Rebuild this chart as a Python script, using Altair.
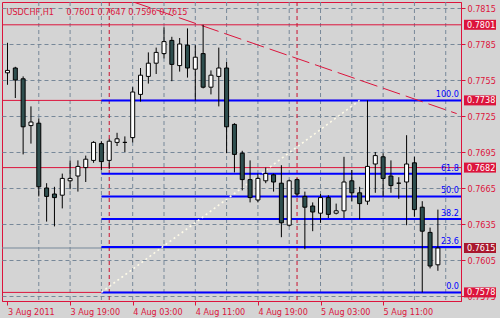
import altair as alt
import pandas as pd

# ---------------- values ----------------
bar_index = list(range(56))
opens = [0.7761, 0.7765, 0.7756, 0.7717, 0.7719, 0.7665, 0.7660, 0.7659, 0.7671, 0.7675,
         0.7682, 0.7688, 0.7702, 0.7688, 0.7703, 0.7703, 0.7707, 0.7743, 0.7758, 0.7769,
         0.7777, 0.7788, 0.7767, 0.7784, 0.7764, 0.7777, 0.7749, 0.7758, 0.7765, 0.7718,
         0.7694, 0.7672, 0.7655, 0.7671, 0.7676, 0.7669, 0.7634, 0.7672, 0.7658, 0.7650,
         0.7644, 0.7657, 0.7644, 0.7646, 0.7671, 0.7661, 0.7654, 0.7685, 0.7691, 0.7675,
         0.7669, 0.7670, 0.7686, 0.7649, 0.7628, 0.7601]
highs = [0.7786, 0.7766, 0.7758, 0.7733, 0.7723, 0.7669, 0.7666, 0.7677, 0.7688, 0.7688,
         0.7692, 0.7704, 0.7704, 0.7706, 0.7711, 0.7708, 0.7749, 0.7765, 0.7778, 0.7782,
         0.7799, 0.7791, 0.7790, 0.7798, 0.7784, 0.7801, 0.7763, 0.7782, 0.7770, 0.7719,
         0.7696, 0.7688, 0.7677, 0.7682, 0.7677, 0.7684, 0.7672, 0.7673, 0.7662, 0.7653,
         0.7660, 0.7659, 0.7652, 0.7691, 0.7680, 0.7666, 0.7738, 0.7695, 0.7694, 0.7688,
         0.7674, 0.7709, 0.7691, 0.7654, 0.7632, 0.7647]
lows = [0.7751, 0.7740, 0.7693, 0.7702, 0.7658, 0.7637, 0.7633, 0.7648, 0.7664, 0.7662,
        0.7670, 0.7686, 0.7680, 0.7681, 0.7700, 0.7695, 0.7703, 0.7737, 0.7752, 0.7760,
        0.7773, 0.7754, 0.7762, 0.7757, 0.7738, 0.7748, 0.7743, 0.7733, 0.7694, 0.7678,
        0.7663, 0.7653, 0.7653, 0.7669, 0.7662, 0.7624, 0.7633, 0.7658, 0.7614, 0.7629,
        0.7636, 0.7640, 0.7643, 0.7640, 0.7654, 0.7639, 0.7651, 0.7661, 0.7658, 0.7661,
        0.7656, 0.7634, 0.7641, 0.7578, 0.7598, 0.7596]
closes = [0.7763, 0.7755, 0.7716, 0.7720, 0.7666, 0.7658, 0.7657, 0.7673, 0.7673, 0.7683,
          0.7689, 0.7703, 0.7687, 0.7704, 0.7706, 0.7703, 0.7745, 0.7759, 0.7769, 0.7778,
          0.7787, 0.7768, 0.7785, 0.7765, 0.7774, 0.7749, 0.7759, 0.7765, 0.7716, 0.7693,
          0.7672, 0.7657, 0.7673, 0.7677, 0.7670, 0.7636, 0.7671, 0.7660, 0.7649, 0.7645,
          0.7657, 0.7643, 0.7646, 0.7670, 0.7661, 0.7652, 0.7683, 0.7692, 0.7673, 0.7667,
          0.7669, 0.7685, 0.7647, 0.7629, 0.7600, 0.7615]

price_ticks = [0.7575, 0.7605, 0.7635, 0.7665, 0.7695, 0.7725, 0.7755, 0.7785, 0.7815]
time_tick_bars = [0, 8, 16, 24, 32, 40, 48]
time_tick_labels = ["3 Aug 2011", "3 Aug 19:00", "4 Aug 03:00", "4 Aug 11:00",
                    "4 Aug 19:00", "5 Aug 03:00", "5 Aug 11:00"]
grid_bars = [4, 8, 12, 16, 20, 24, 28, 32, 36, 40, 44, 48, 52, 56]

red_levels = [0.7801, 0.7738, 0.7682, 0.7578]
bid_level = [0.7615]
fib_low, fib_high = 0.7578, 0.7738
fib_ratios = [0.0, 23.6, 38.2, 50.0, 61.8, 100.0]
fib_start_bar = 12
fib_diag_bars = [12, 45]
fib_diag_prices = [0.7578, 0.7738]
trend_bars = [16.1, 57.4]
trend_prices = [0.7820, 0.7727]
vline_bars = [13, 37]

box_prices = [0.7801, 0.7738, 0.7682, 0.7615, 0.7578]
box_kinds = ["level", "level", "level", "bid", "level"]

header_symbol = "USDCHF,H1"
header_ohlc = ["0.7601", "0.7647", "0.7596", "0.7615"]

# ---------------- styling ----------------
CRIMSON = "#dc143c"
BID_BOX = "#a8182e"
GRID = "#778899"
BG = "#d4d4d4"
BEAR = "#2f4f4f"
FONT = "DejaVu Sans Condensed, Liberation Sans Narrow, DejaVu Sans, sans-serif"
FS = 9

W, H = 459, 299
xs = alt.Scale(domain=[-0.0625, W / 8 - 0.0625], nice=False, zero=False)
ys = alt.Scale(domain=[0.7815 - 293 / 12000, 0.7815 + 6 / 12000], nice=False, zero=False)

label_expr = "[" + ",".join("'%s'" % s for s in time_tick_labels) + "][round(datum.value/8)]"
X_AX = alt.Axis(orient="bottom", values=time_tick_bars, labelExpr=label_expr, title=None,
                labelAlign="left", labelBaseline="top", labelFont=FONT, labelFontSize=FS,
                labelColor=CRIMSON, tickColor=CRIMSON, tickSize=4, domainColor=CRIMSON,
                grid=False, labelPadding=2, labelFlush=False, labelOverlap=False, labelBound=False)
Y_AX = alt.Axis(orient="right", values=price_ticks, format=".4f", title=None,
                labelAlign="left", labelBaseline="middle", labelFont=FONT, labelFontSize=FS,
                labelColor=CRIMSON, tickColor=CRIMSON, tickSize=4, domainColor=CRIMSON,
                grid=True, gridColor=GRID, gridDash=[4, 3], gridWidth=1, labelPadding=2,
                labelFlush=False, labelOverlap=False, labelBound=False)


def X(f):
    return alt.X(f, type="quantitative", scale=xs, axis=X_AX)


def Y(f):
    return alt.Y(f, type="quantitative", scale=ys, axis=Y_AX)


candles = pd.DataFrame({"k": bar_index, "open": opens, "high": highs,
                        "low": lows, "close": closes})
candles["fillc"] = ["white" if c > o else BEAR for o, c in zip(opens, closes)]

vgrid = alt.Chart(pd.DataFrame({"k": grid_bars})).mark_rule(
    color=GRID, strokeDash=[4, 3], strokeWidth=1).encode(x=X("k"))

red_df = pd.DataFrame({"p": red_levels})
red_lines = alt.Chart(red_df).mark_rule(color=CRIMSON, strokeWidth=1).encode(y=Y("p"))
bid_line = alt.Chart(pd.DataFrame({"p": bid_level})).mark_rule(
    color=GRID, strokeWidth=1).encode(y=Y("p"))

vlines = alt.Chart(pd.DataFrame({"k": vline_bars})).mark_rule(
    color="#c8102e", strokeDash=[4, 3], strokeWidth=1).encode(x=X("k"))

fib_df = pd.DataFrame({
    "r": fib_ratios,
    "p": [fib_low + r / 100 * (fib_high - fib_low) for r in fib_ratios],
    "k": [fib_start_bar] * len(fib_ratios),
    "lab": ["%.1f" % r for r in fib_ratios],
})
fib_lines = alt.Chart(fib_df).mark_rule(color="#0000ff", strokeWidth=2).encode(
    x=X("k"), x2=alt.value(W), y=Y("p"))
fib_text = alt.Chart(fib_df).mark_text(
    align="right", baseline="alphabetic", dy=-3, color="#0000ff",
    font=FONT, fontSize=FS).encode(x=alt.value(W - 2), y=Y("p"), text="lab:N")

fib_diag = alt.Chart(pd.DataFrame({"k": fib_diag_bars, "p": fib_diag_prices})).mark_line(
    color="#fffbe8", strokeDash=[2, 3], strokeWidth=1.6).encode(x=X("k"), y=Y("p"))

trend = alt.Chart(pd.DataFrame({"k": trend_bars, "p": trend_prices})).mark_line(
    color=CRIMSON, strokeDash=[18, 6], strokeWidth=1, clip=True).encode(x=X("k"), y=Y("p"))

wicks = alt.Chart(candles).mark_rule(color="black", strokeWidth=1, clip=True).encode(
    x=X("k"), y=Y("low"), y2="high")
bodies = alt.Chart(candles).mark_bar(size=4, stroke="black", strokeWidth=1, clip=True).encode(
    x=X("k"), y=Y("open"), y2="close",
    fill=alt.Fill("fillc:N", scale=None))

box_df = pd.DataFrame({"p": box_prices, "kind": box_kinds})
box_df["boxc"] = [BID_BOX if k == "bid" else CRIMSON for k in box_kinds]
boxes = alt.Chart(box_df).mark_tick(orient="horizontal", thickness=10, size=32, opacity=1).encode(
    x=alt.value(W + 19), y=Y("p"),
    color=alt.Color("boxc:N", scale=None))
box_text = alt.Chart(box_df).mark_text(
    align="left", baseline="middle", color="white", font=FONT, fontSize=FS).encode(
    x=alt.value(W + 6), y=Y("p"), text=alt.Text("p:Q", format=".4f"))

hdr1 = alt.Chart(pd.DataFrame({"t": [header_symbol]})).mark_text(
    align="left", baseline="alphabetic", color=CRIMSON, font=FONT, fontSize=FS).encode(
    x=alt.value(4.5), y=alt.value(12.5), text="t:N")
hdr2 = alt.Chart(pd.DataFrame({"t": [" ".join(header_ohlc)]})).mark_text(
    align="left", baseline="alphabetic", color=CRIMSON, font=FONT, fontSize=FS).encode(
    x=alt.value(64.5), y=alt.value(12.5), text="t:N")

chart = alt.layer(
    vgrid, red_lines, bid_line, vlines, fib_lines, fib_diag, trend,
    wicks, bodies, fib_text, boxes, box_text, hdr1, hdr2
).properties(
    width=W, height=H, background=BG,
    padding={"left": 2, "top": 2, "right": 39, "bottom": 17},
    autosize=alt.AutoSizeParams(type="none"),
).configure_view(stroke=CRIMSON, strokeWidth=1, fill=BG)

chart.save("out.html", embed_options={"renderer": "svg", "actions": False})
